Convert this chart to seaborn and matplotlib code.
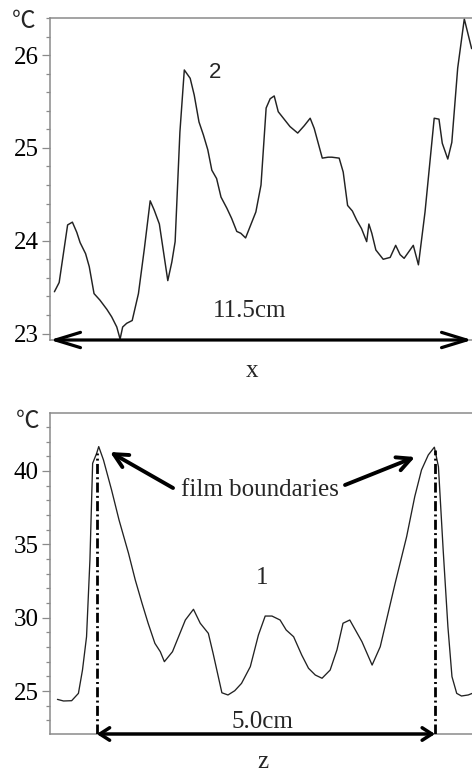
import numpy as np
import pandas as pd
import matplotlib
matplotlib.use("Agg")
import matplotlib.pyplot as plt
from matplotlib.patches import FancyArrowPatch
from matplotlib.ticker import MultipleLocator
import seaborn as sns

# ---------------- data ----------------
# curve 2: temperature along x (cm, degC)
x_cm = [0.12, 0.25, 0.48, 0.61, 0.73, 0.82, 0.97, 1.07, 1.20, 1.36, 1.55, 1.68, 1.82, 1.91,
        1.98, 2.09, 2.24, 2.41, 2.57, 2.73, 2.84, 2.98, 3.21, 3.32, 3.41, 3.54, 3.66, 3.82,
        3.93, 4.06, 4.18, 4.30, 4.41, 4.54, 4.66, 4.82, 4.95, 5.09, 5.20, 5.33, 5.47, 5.61,
        5.75, 5.89, 6.00, 6.11, 6.22, 6.36, 6.54, 6.75, 6.93, 7.09, 7.20, 7.31, 7.42, 7.58,
        7.68, 7.88, 7.99, 8.11, 8.24, 8.36, 8.49, 8.63, 8.69, 8.77, 8.88, 9.08, 9.27, 9.42,
        9.54, 9.65, 9.90, 10.04, 10.22, 10.47, 10.60, 10.69, 10.84, 10.95, 11.11, 11.29, 11.49]
temp_x = [23.45, 23.55, 24.17, 24.20, 24.09, 23.98, 23.86, 23.72, 23.43, 23.36, 23.26, 23.18,
          23.07, 22.94, 23.07, 23.11, 23.14, 23.43, 23.91, 24.43, 24.33, 24.18, 23.57, 23.77,
          23.99, 25.17, 25.84, 25.75, 25.57, 25.28, 25.14, 24.98, 24.76, 24.67, 24.47, 24.35,
          24.24, 24.10, 24.08, 24.03, 24.17, 24.31, 24.60, 25.43, 25.53, 25.56, 25.39, 25.32,
          25.23, 25.16, 25.24, 25.32, 25.21, 25.05, 24.89, 24.90, 24.90, 24.89, 24.74, 24.38,
          24.32, 24.22, 24.13, 23.99, 24.18, 24.08, 23.90, 23.80, 23.82, 23.95, 23.85, 23.81,
          23.95, 23.74, 24.31, 25.32, 25.31, 25.05, 24.88, 25.06, 25.86, 26.39, 26.07]

# curve 1: temperature along z (cm, degC)
z_cm = [0.11, 0.20, 0.32, 0.42, 0.48, 0.54, 0.59, 0.63, 0.69, 0.72, 0.79, 0.91, 1.02, 1.16,
        1.26, 1.36, 1.45, 1.55, 1.63, 1.69, 1.81, 2.00, 2.12, 2.22, 2.34, 2.41, 2.54, 2.63,
        2.73, 2.83, 2.96, 3.08, 3.18, 3.28, 3.40, 3.49, 3.60, 3.72, 3.82, 3.92, 4.02, 4.14,
        4.24, 4.33, 4.43, 4.61, 4.76, 4.88, 5.10, 5.27, 5.39, 5.49, 5.59, 5.68, 5.74, 5.81,
        5.88, 5.94, 6.01, 6.08, 6.18, 6.24]
temp_z = [24.43, 24.32, 24.34, 24.84, 26.43, 28.70, 33.93, 40.52, 41.21, 41.66, 40.75, 38.70,
          36.66, 34.39, 32.57, 30.98, 29.62, 28.25, 27.68, 27.00, 27.68, 29.84, 30.57, 29.62,
          28.93, 27.57, 24.88, 24.73, 25.02, 25.52, 26.66, 28.82, 30.11, 30.11, 29.84, 29.16,
          28.70, 27.45, 26.55, 26.09, 25.87, 26.43, 27.80, 29.62, 29.84, 28.36, 26.77, 28.02,
          32.34, 35.52, 38.25, 40.07, 41.09, 41.62, 40.29, 34.61, 29.38, 25.98, 24.84, 24.66,
          24.73, 24.84]

boundary_z = [0.69, 5.69]          # film boundaries (cm)
width_x_label = "11.5cm"
width_z_label = "5.0cm"
x_span = [0.0, 11.5]

top_yticks = [23, 24, 25, 26]
bot_yticks = [25, 30, 35, 40]

df_x = pd.DataFrame({"x": x_cm, "T": temp_x})
df_z = pd.DataFrame({"z": z_cm, "T": temp_z})

# ---------------- style ----------------
sns.set_style("ticks")
plt.rcParams["font.family"] = ["Liberation Serif", "DejaVu Serif"]

W, H = 472, 774
fig = plt.figure(figsize=(W / 100, H / 100), dpi=100)

def fig_rect(l, t, r, b):
    return [l / W, 1 - b / H, (r - l) / W, (b - t) / H]

ax1 = fig.add_axes(fig_rect(50, 18, 472, 340))
ax2 = fig.add_axes(fig_rect(50, 413, 472, 734))

spine_col = "#8a8a8a"
line_col = "#222222"
FS = 18

for ax in (ax1, ax2):
    for s in ("left", "top", "bottom"):
        ax.spines[s].set_color(spine_col)
        ax.spines[s].set_linewidth(1.1)
    ax.spines["right"].set_visible(False)

def style_ticks(ax):
    ax.tick_params(axis="y", which="major", length=6, width=0.9, color=spine_col,
                   labelsize=FS, pad=2, labelcolor="black")
    ax.tick_params(axis="y", which="minor", length=2.8, width=0.9, color=spine_col)
    ax.tick_params(axis="x", which="both", bottom=False, labelbottom=False)
    ax.set_xlabel("")
    ax.set_ylabel("")

# ---------------- top panel ----------------
sns.lineplot(data=df_x, x="x", y="T", ax=ax1, color=line_col, lw=1.05, sort=False)
ax1.set_xlim(0, 11.5)
ax1.set_ylim(22.93, 26.40)
ax1.set_yticks(top_yticks)
ax1.yaxis.set_minor_locator(MultipleLocator(0.2))
style_ticks(ax1)

arr1 = FancyArrowPatch((x_span[0], 22.93), (x_span[1], 22.93),
                       arrowstyle="<->,head_length=18,head_width=5.5",
                       mutation_scale=1, lw=2.3, color="black",
                       shrinkA=0, shrinkB=0, clip_on=False, zorder=5)
ax1.add_patch(arr1)
ax1.text(0.474, 0.090, width_x_label, transform=ax1.transAxes, ha="center", va="center",
         fontsize=FS)
ax1.text(0.39, 0.832, "2", transform=ax1.transAxes, ha="center", va="center",
         fontsize=16, family=["Liberation Sans", "DejaVu Sans"])
ax1.text(0.479, -0.115, "x", transform=ax1.transAxes, ha="center", va="baseline",
         fontsize=FS)
ax1.text(-0.062, 0.988, "\u2103", transform=ax1.transAxes, ha="center", va="center",
         fontsize=17, family=["Noto Sans CJK SC", "DejaVu Sans"])

# ---------------- bottom panel ----------------
sns.lineplot(data=df_z, x="z", y="T", ax=ax2, color=line_col, lw=0.95, sort=False)
ax2.set_xlim(0, 6.236)
ax2.set_ylim(22.07, 43.95)
ax2.set_yticks(bot_yticks)
ax2.yaxis.set_minor_locator(MultipleLocator(1))
style_ticks(ax2)

peak_vals = np.interp(boundary_z, z_cm, temp_z)
ax2.vlines(boundary_z, 22.07, peak_vals, colors="black", lw=2.0,
           linestyles=[(0, (3.6, 1.2, 0.7, 1.2))], zorder=4)

arr2 = FancyArrowPatch((boundary_z[0], 22.07), (boundary_z[1], 22.07),
                       arrowstyle="<->,head_length=7,head_width=4.5",
                       mutation_scale=1, lw=2.5, color="black",
                       shrinkA=0, shrinkB=0, clip_on=False, zorder=5)
ax2.add_patch(arr2)
ax2.text(0.5024, 0.037, width_z_label, transform=ax2.transAxes, ha="center", va="center",
         fontsize=FS)
ax2.text(0.5024, 0.486, "1", transform=ax2.transAxes, ha="center", va="center",
         fontsize=FS)
ax2.text(0.4976, 0.760, "film boundaries", transform=ax2.transAxes, ha="center",
         va="center", fontsize=FS)
for tail, tip in (((0.2915, 0.7664), (0.1422, 0.8785)),
                  ((0.6991, 0.7757), (0.8649, 0.8629))):
    ax2.annotate("", xy=tip, xycoords="axes fraction", xytext=tail,
                 textcoords="axes fraction",
                 arrowprops=dict(arrowstyle="->,head_length=10,head_width=5",
                                 mutation_scale=1, lw=2.8, color="black",
                                 shrinkA=0, shrinkB=0))
ax2.text(0.505, -0.106, "z", transform=ax2.transAxes, ha="center", va="baseline",
         fontsize=FS)
ax2.text(-0.052, 0.972, "\u2103", transform=ax2.transAxes, ha="center", va="center",
         fontsize=17, family=["Noto Sans CJK SC", "DejaVu Sans"])

fig.savefig("out.png", dpi=100)
